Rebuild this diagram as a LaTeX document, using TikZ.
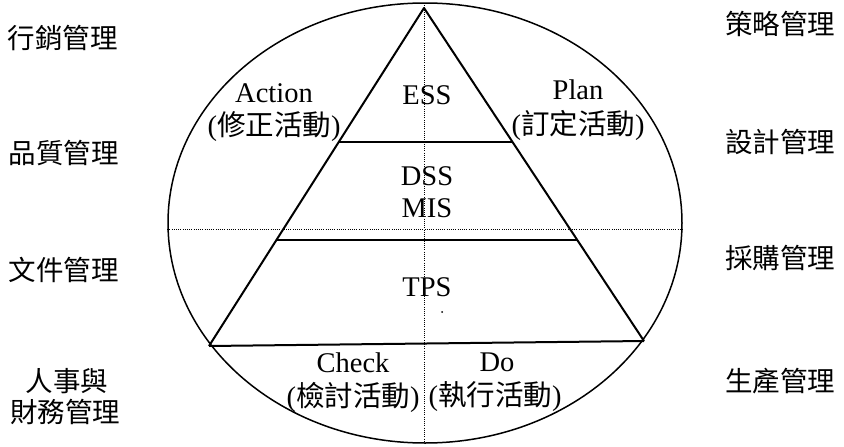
\documentclass[tikz,border=0pt]{standalone}
\usepackage{fontspec}
\usetikzlibrary{shapes.geometric}
\setmainfont{Liberation Serif}
\newfontfamily\cjk{Noto Sans CJK TC}
\begin{document}
\begin{tikzpicture}[x=1pt,y=-1pt,
  lbl/.style={font=\fontsize{28.5}{30}\selectfont, inner sep=0pt},
  side/.style={font=\fontsize{27.5}{29}\selectfont\cjk, inner sep=0pt},
  solidline/.style={line width=2pt},
  dotline/.style={line width=0.9pt, dash pattern=on 0.9pt off 1.3pt}]
\useasboundingbox (0,0) rectangle (844,447);
% ellipse
\node[draw, line width=1.5pt, ellipse, minimum width=514pt, minimum height=440pt, inner sep=0pt] (ell) at (425,223) {};
% dotted axes
\coordinate (vt) at (424,3);
\coordinate (vb) at (424,443);
\draw[dotline] (vt) -- (vb);
\draw[dotline] (ell.west) ++(0,6) coordinate (hl) -- (ell.east |- hl) coordinate (hr);
% pyramid
\coordinate (apex) at (424,8);
\coordinate (bl) at (209,346);
\coordinate (br) at (644,341);
\coordinate (l1) at (339,142);
\coordinate (r1) at (512,142);
\coordinate (l2) at (276,240);
\coordinate (r2) at (577,240);
\draw[solidline, line join=round] (bl) -- (apex) -- (br);
\draw[solidline] (l1) -- (r1);
\draw[solidline] (l2) -- (r2);
\draw[solidline] (bl) -- (br);
% inner labels
\node[lbl] (ess) at (427,95) {ESS};
\node[lbl] (dss) at (427,176) {DSS};
\node[lbl] (mis) at (427,208) {MIS};
\node[lbl] (tps) at (427,287) {TPS};
\fill (442,312) circle (1pt);
\node[lbl] (act) at (274,93) {Action};
\node[lbl] (act2) at (274,127) {({\cjk 修正活動})};
\node[lbl] (plan) at (578,90) {Plan};
\node[lbl] (plan2) at (578,125) {({\cjk 訂定活動})};
\node[lbl] (chk) at (353,363) {Check};
\node[lbl] (chk2) at (353,397) {({\cjk 檢討活動})};
\node[lbl] (do) at (497,362) {Do};
\node[lbl] (do2) at (495,397) {({\cjk 執行活動})};
% side labels
\node[side] (s1) at (63,38) {行銷管理};
\node[side] (s2) at (64,153) {品質管理};
\node[side] (s3) at (64,270) {文件管理};
\node[side] (s4) at (67,381) {人事與};
\node[side] (s5) at (65,412) {財務管理};
\node[side] (s6) at (780,24) {策略管理};
\node[side] (s7) at (780,142) {設計管理};
\node[side] (s8) at (780,258) {採購管理};
\node[side] (s9) at (780,381) {生產管理};
\end{tikzpicture}
\end{document}
